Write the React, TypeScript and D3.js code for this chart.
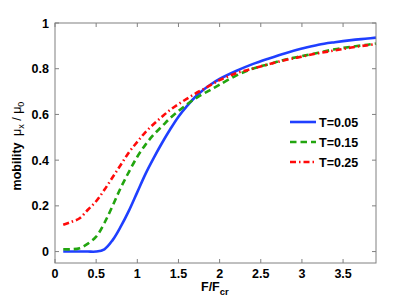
import React from 'react';
import * as d3 from 'd3';

// field values F/Fcr shared by all three curves
const fieldValues = [0.1, 0.2, 0.3, 0.4, 0.5, 0.6, 0.7, 0.8, 0.9, 1.0, 1.1, 1.2, 1.3, 1.4, 1.5, 1.6, 1.7, 1.8, 1.9, 2.0, 2.2, 2.4, 2.6, 2.8, 3.0, 3.2, 3.4, 3.6, 3.8, 3.9];

const mobilityT005 = [0, 0, 0, 0, 0, 0.01, 0.05, 0.11, 0.18, 0.26, 0.34, 0.41, 0.475, 0.535, 0.59, 0.635, 0.675, 0.707, 0.733, 0.755, 0.79, 0.82, 0.845, 0.868, 0.888, 0.905, 0.916, 0.925, 0.932, 0.936];
const mobilityT015 = [0.01, 0.01, 0.015, 0.035, 0.065, 0.125, 0.2, 0.28, 0.35, 0.415, 0.468, 0.512, 0.548, 0.584, 0.615, 0.643, 0.668, 0.69, 0.71, 0.73, 0.77, 0.8, 0.82, 0.84, 0.855, 0.87, 0.885, 0.896, 0.905, 0.91];
const mobilityT025 = [0.117, 0.13, 0.146, 0.183, 0.22, 0.27, 0.325, 0.38, 0.435, 0.48, 0.523, 0.558, 0.59, 0.62, 0.645, 0.668, 0.69, 0.71, 0.73, 0.75, 0.78, 0.8, 0.82, 0.838, 0.853, 0.868, 0.88, 0.893, 0.903, 0.908];

const seriesNames = ['T=0.05', 'T=0.15', 'T=0.25'];
const xTicks = [0, 0.5, 1, 1.5, 2, 2.5, 3, 3.5];
const yTicks = [0, 0.2, 0.4, 0.6, 0.8, 1];

const left = 55, right = 376, top = 23, bottom = 263;
const font = 'Liberation Sans, Arial, Helvetica, sans-serif';

export default function App() {
  const x = d3.scaleLinear().domain([0, 3.9]).range([left, right]);
  const y = d3.scaleLinear().domain([-0.05, 1]).range([bottom, top]);

  const series = [
    { name: seriesNames[0], values: mobilityT005, color: '#1f3fff', dash: undefined },
    { name: seriesNames[1], values: mobilityT015, color: '#22a50f', dash: '6.5,4' },
    { name: seriesNames[2], values: mobilityT025, color: '#ff0a0a', dash: '6,3,1.5,3' },
  ];

  const line = d3.line<number>()
    .x((d, i) => x(fieldValues[i]))
    .y(d => y(d))
    .curve(d3.curveCatmullRom.alpha(0.5));

  return (
    <svg width={415} height={306} style={{ position: 'absolute', left: 0, top: 0, background: '#fff' }}>
      <rect x={0} y={0} width={415} height={306} fill="#fff" />
      {series.map(s => (
        <path key={s.name} d={line(s.values) || ''} fill="none" stroke={s.color}
          strokeWidth={2.6} strokeDasharray={s.dash} />
      ))}

      {/* box and ticks */}
      <rect x={left} y={top} width={right - left} height={bottom - top} fill="none" stroke="#808080" strokeWidth={1} />
      {xTicks.map(t => (
        <g key={'x' + t}>
          <line x1={x(t)} x2={x(t)} y1={bottom} y2={bottom - 4} stroke="#808080" />
          <line x1={x(t)} x2={x(t)} y1={top} y2={top + 4} stroke="#808080" />
          <text x={x(t)} y={278} textAnchor="middle" fontFamily={font} fontWeight="bold" fontSize={12.5}>{String(t)}</text>
        </g>
      ))}
      {yTicks.map(t => (
        <g key={'y' + t}>
          <line x1={left} x2={left + 4} y1={y(t)} y2={y(t)} stroke="#808080" />
          <line x1={right} x2={right - 4} y1={y(t)} y2={y(t)} stroke="#808080" />
          <text x={49} y={y(t) + 4.5} textAnchor="end" fontFamily={font} fontWeight="bold" fontSize={12.5}>{String(t)}</text>
        </g>
      ))}

      {/* axis labels */}
      <text x={201} y={291} fontFamily={font} fontWeight="bold" fontSize={12.5}>
        F/F<tspan fontSize={9.5} dy={4}>cr</tspan>
      </text>
      <text transform="translate(21,146) rotate(-90)" textAnchor="middle" fontFamily={font} fontSize={12.5}>
        <tspan fontWeight="bold">mobility </tspan>
        <tspan dx={3}>μ</tspan><tspan fontSize={9} dy={3}>x</tspan>
        <tspan dy={-3}> / μ</tspan><tspan fontSize={9} dy={3}>0</tspan>
      </text>

      {/* legend */}
      {series.map((s, i) => (
        <g key={'leg' + s.name}>
          <line x1={290} x2={316} y1={122 + i * 20} y2={122 + i * 20} stroke={s.color} strokeWidth={2.6} strokeDasharray={s.dash} />
          <text x={319} y={126.5 + i * 20} fontFamily={font} fontWeight="bold" fontSize={12.5}>{s.name}</text>
        </g>
      ))}
    </svg>
  );
}
